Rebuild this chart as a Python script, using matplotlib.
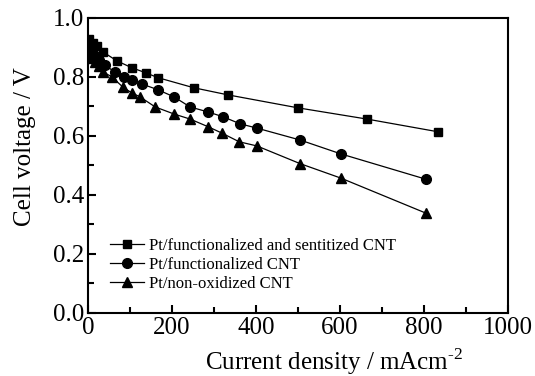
import matplotlib
matplotlib.use('Agg')
import matplotlib.pyplot as plt
from matplotlib.ticker import MultipleLocator

############################## Data ############################################
# Pt/functionalized and sentitized CNT
x_sens = [3, 12, 21, 35, 69, 104, 137, 167, 252, 333, 500, 664, 833]
y_sens = [0.928, 0.912, 0.904, 0.884, 0.853, 0.830, 0.813, 0.796, 0.762, 0.738,
          0.694, 0.656, 0.613]
# Pt/functionalized CNT
x_func = [2, 8, 14, 25, 40, 64, 86, 105, 128, 167, 205, 243, 286, 321, 362,
          403, 505, 602, 805]
y_func = [0.894, 0.885, 0.874, 0.855, 0.838, 0.816, 0.799, 0.789, 0.775, 0.755,
          0.731, 0.697, 0.680, 0.664, 0.640, 0.625, 0.585, 0.538, 0.452]
# Pt/non-oxidized CNT
x_nonox = [2, 8, 16, 25, 36, 56, 84, 104, 124, 160, 205, 243, 286, 318, 360,
           402, 505, 602, 805]
y_nonox = [0.876, 0.862, 0.850, 0.835, 0.815, 0.800, 0.763, 0.745, 0.731,
           0.697, 0.673, 0.656, 0.630, 0.609, 0.579, 0.565, 0.505, 0.456, 0.337]

labels = ['Pt/functionalized and sentitized CNT',
          'Pt/functionalized CNT',
          'Pt/non-oxidized CNT']

############################## Plot ############################################
plt.rcParams['font.family'] = ['Liberation Serif', 'DejaVu Serif']
plt.rcParams['mathtext.fontset'] = 'custom'
plt.rcParams['mathtext.rm'] = 'Liberation Serif'

fig = plt.figure(figsize=(5.35, 3.76), dpi=100)
ax = fig.add_axes([0.1645, 0.1684, 0.785, 0.785])

ax.plot(x_sens, y_sens, '-s', color='black', lw=0.9, markersize=6, label=labels[0])
ax.plot(x_func, y_func, '-o', color='black', lw=0.9, markersize=7, label=labels[1])
ax.plot(x_nonox, y_nonox, '-^', color='black', lw=0.9, markersize=7.5, label=labels[2])

## axis limits and ticks
ax.set_xlim(0, 1000)
ax.set_ylim(0, 1.0)
ax.xaxis.set_major_locator(MultipleLocator(200))
ax.xaxis.set_minor_locator(MultipleLocator(100))
ax.yaxis.set_major_locator(MultipleLocator(0.2))
ax.yaxis.set_minor_locator(MultipleLocator(0.1))
ax.yaxis.set_major_formatter(plt.FuncFormatter(lambda v, p: '%.1f' % v))
ax.tick_params(which='both', direction='in', top=False, right=False,
               width=1.5, labelsize=18, pad=3)
ax.tick_params(which='major', length=6)
ax.tick_params(which='minor', length=4)
for sp in ax.spines.values():
    sp.set_linewidth(1.5)

## labels
ax.set_xlabel('Current density / mAcm$^{\u2010 2}$', fontsize=18)
ax.set_ylabel('Cell voltage / V', fontsize=18)
ax.xaxis.set_label_coords(0.586, -0.115)
ax.yaxis.set_label_coords(-0.125, 0.562)

ax.legend(loc='lower left', bbox_to_anchor=(0.025, 0.03), frameon=False,
          fontsize=12, handlelength=2.0, handletextpad=0.3,
          labelspacing=0.18, borderpad=0.2)

plt.savefig('out.png', dpi=100)
